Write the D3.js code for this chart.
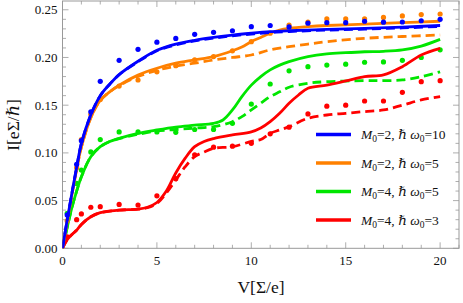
<!DOCTYPE html>
<html>
<head>
<meta charset="utf-8">
<script src="https://cdn.jsdelivr.net/npm/d3@7"></script>
<style>
  body { margin: 0; background: #fff; }
  text { font-family: "Liberation Serif", "DejaVu Serif", serif; }
</style>
</head>
<body>
<div id="chart"></div>
<script>
// curves: [V, I]
var blueSolid = [[0,0],[0.25,0.03],[0.5,0.058],[0.75,0.085],[1,0.110],[1.5,0.140],[2,0.160],[2.5,0.172],[3,0.182],[4,0.196],[5,0.2075],[6,0.214],[7,0.218],[8,0.221],[9,0.2235],[10,0.2254],[11,0.227],[12,0.228],[14,0.2295],[16,0.2305],[18,0.2318],[20,0.2335]];
var blueDash = [[0,0],[0.25,0.03],[0.5,0.058],[0.75,0.085],[1,0.110],[1.5,0.140],[2,0.160],[2.5,0.172],[3,0.182],[4,0.1955],[5,0.207],[6,0.2133],[7,0.2173],[8,0.2203],[9,0.2227],[10,0.2246],[11,0.2262],[12,0.2272],[14,0.2287],[16,0.2297],[18,0.231],[20,0.2325]];
var orangeSolid = [[0,0],[0.25,0.028],[0.5,0.056],[0.75,0.083],[1,0.106],[1.5,0.137],[2,0.155],[2.5,0.164],[3,0.171],[4,0.1815],[5,0.1887],[6,0.194],[7,0.1974],[8,0.2008],[9,0.207],[9.5,0.211],[10,0.2166],[10.5,0.221],[11,0.2254],[11.5,0.2288],[12,0.2305],[13,0.2323],[14,0.2335],[16,0.235],[18,0.2365],[20,0.238]];
var orangeDash = [[0,0],[0.25,0.028],[0.5,0.056],[0.75,0.083],[1,0.106],[1.5,0.137],[2,0.155],[2.5,0.164],[3,0.1705],[4,0.180],[5,0.1865],[6,0.191],[7,0.194],[8,0.1974],[9,0.2],[10,0.2026],[11,0.208],[12,0.2113],[13,0.214],[14,0.2166],[16,0.2201],[18,0.222],[20,0.2236]];
var greenSolid = [[0,0],[0.25,0.022],[0.5,0.043],[0.75,0.06],[1,0.075],[1.5,0.096],[2,0.1065],[2.5,0.112],[3,0.1153],[4,0.1205],[5,0.124],[6,0.127],[7,0.129],[8,0.131],[8.5,0.1345],[9,0.145],[9.5,0.159],[10,0.171],[10.5,0.180],[11,0.187],[11.5,0.192],[12,0.1956],[13,0.2008],[14,0.2037],[15,0.205],[16,0.206],[17,0.2065],[18,0.208],[19,0.212],[20,0.219]];
var greenDash = [[0,0],[0.25,0.022],[0.5,0.043],[0.75,0.06],[1,0.075],[1.5,0.096],[2,0.1065],[2.5,0.112],[3,0.115],[4,0.1195],[5,0.123],[6,0.1245],[7,0.126],[8,0.1275],[9,0.1327],[9.5,0.138],[10,0.145],[10.5,0.152],[11,0.159],[11.5,0.164],[12,0.1688],[13,0.173],[14,0.1746],[16,0.1757],[17,0.1757],[18,0.1765],[19,0.1799],[20,0.185]];
var redSolid = [[0,0],[0.25,0.009],[0.5,0.0145],[0.75,0.019],[1,0.025],[1.5,0.033],[2,0.0373],[3,0.040],[4,0.041],[4.5,0.043],[5,0.048],[5.5,0.060],[6,0.079],[6.5,0.0945],[7,0.1065],[7.5,0.112],[8,0.115],[9,0.1188],[10,0.122],[10.5,0.126],[11,0.1327],[11.5,0.1415],[12,0.152],[12.5,0.1607],[13,0.1677],[14,0.171],[15,0.1754],[16,0.180],[17,0.1817],[18,0.1904],[19,0.2026],[20,0.2096]];
var redDash = [[0,0],[0.25,0.009],[0.5,0.0145],[0.75,0.019],[1,0.025],[1.5,0.033],[2,0.0373],[3,0.040],[4,0.041],[4.5,0.0425],[5,0.047],[5.5,0.058],[6,0.0716],[6.5,0.0855],[7,0.096],[7.5,0.101],[8,0.1048],[9,0.1065],[10,0.112],[10.5,0.114],[11,0.1205],[11.5,0.124],[12,0.1275],[13,0.1363],[14,0.1397],[15,0.1415],[16,0.1433],[17,0.145],[18,0.150],[19,0.1555],[20,0.159]];

// dots
var dotV = [0.25,0.75,1,1.5,2,3,4,5,6,7,8,9,10,11,12,13,14,15,16,17,18,19,20];
var blueDots = [0.035,0.088,0.1128,0.143,0.175,0.197,0.2086,0.216,0.220,0.2243,0.2264,0.228,0.2323,0.2335,0.232,0.236,0.2365,0.2365,0.238,0.237,0.2372,0.2385,0.240];
var orangeDots = [0.029,0.0845,0.114,0.1405,0.156,0.170,0.1764,0.185,0.1914,0.1974,0.201,0.207,0.2166,0.2254,0.234,0.237,0.2404,0.2404,0.2406,0.242,0.2436,0.245,0.2456];
var greenDots = [0.0367,0.068,0.082,0.101,0.114,0.122,0.122,0.122,0.1216,0.1245,0.1245,0.131,0.1512,0.1722,0.186,0.1904,0.192,0.193,0.195,0.1953,0.197,0.200,0.208];
var redDots = [0.012,0.030,0.036,0.043,0.0436,0.046,0.0454,0.055,0.073,0.098,0.106,0.107,0.110,0.120,0.127,0.1408,0.149,0.150,0.1544,0.1544,0.1635,0.1746,0.1757];

var xTicks = [0,5,10,15,20];
var yTicks = [0,0.05,0.10,0.15,0.20,0.25];

var series = [
  {name: "g", color: "#00e600", solid: greenSolid, dash: greenDash, dots: greenDots, M: "4", w: "5"},
  {name: "r", color: "#ff0000", solid: redSolid, dash: redDash, dots: redDots, M: "4", w: "3"},
  {name: "o", color: "#ff8000", solid: orangeSolid, dash: orangeDash, dots: orangeDots, M: "2", w: "5"},
  {name: "b", color: "#0000ff", solid: blueSolid, dash: blueDash, dots: blueDots, M: "2", w: "10"}
];
var legendOrder = ["b", "o", "g", "r"];

var W = 463, H = 303;
var pL = 62.5, pR = 459, pT = 1, pB = 248.3;

var svg = d3.select("#chart").append("svg")
  .attr("width", W)
  .attr("height", H);

var x = d3.scaleLinear().domain([0, 21]).range([pL, pR]);
var y = d3.scaleLinear().domain([0, 0.2592]).range([pB, pT]);

svg.append("clipPath").attr("id", "clip")
  .append("rect").attr("x", pL).attr("y", pT).attr("width", pR - pL).attr("height", pB - pT);

// frame ticks (inward)
var frame = svg.append("g");
var minorX = d3.range(0, 21.01, 1);
var minorY = d3.range(0, 0.2591, 0.01);
minorX.forEach(function(v) {
  var major = Math.abs(v % 5) < 1e-9;
  var len = major ? 6 : 3.5;
  frame.append("line").attr("x1", x(v)).attr("x2", x(v)).attr("y1", pB).attr("y2", pB - len);
  frame.append("line").attr("x1", x(v)).attr("x2", x(v)).attr("y1", pT).attr("y2", pT + len);
});
minorY.forEach(function(v) {
  var major = Math.abs(Math.round(v * 100) % 5) === 0;
  var len = major ? 6 : 3.5;
  frame.append("line").attr("x1", pL).attr("x2", pL + len).attr("y1", y(v)).attr("y2", y(v));
  frame.append("line").attr("x1", pR).attr("x2", pR - len).attr("y1", y(v)).attr("y2", y(v));
});
frame.selectAll("line").attr("stroke", "#999").attr("stroke-width", 0.8);
frame.append("rect")
  .attr("x", pL).attr("y", pT).attr("width", pR - pL).attr("height", pB - pT)
  .attr("fill", "none").attr("stroke", "#999").attr("stroke-width", 1);

// tick labels
svg.selectAll(".xt").data(xTicks).join("text")
  .attr("x", d => x(d)).attr("y", pB + 17)
  .attr("text-anchor", "middle").attr("font-size", 13).attr("fill", "#111")
  .text(d => d);
svg.selectAll(".yt").data(yTicks).join("text")
  .attr("x", pL - 5).attr("y", d => y(d) + 4.5)
  .attr("text-anchor", "end").attr("font-size", 13).attr("fill", "#111")
  .text(d => d.toFixed(2));

// axis labels
svg.append("text")
  .attr("x", 261).attr("y", 293)
  .attr("text-anchor", "middle").attr("font-size", 17.5).attr("fill", "#111")
  .text("V[Σ/e]");
svg.append("text")
  .attr("transform", "translate(19,125) rotate(-90)")
  .attr("text-anchor", "middle").attr("font-size", 17.5).attr("fill", "#111")
  .text("I[eΣ/ℏ]");

// curves
var line = d3.line()
  .x(d => x(d[0]))
  .y(d => y(d[1]))
  .curve(d3.curveCatmullRom.alpha(0.5));

var plot = svg.append("g").attr("clip-path", "url(#clip)");

series.forEach(function(s) {
  plot.selectAll(".dot-" + s.name).data(dotV).join("circle")
    .attr("cx", d => x(d))
    .attr("cy", (d, i) => y(s.dots[i]))
    .attr("r", 2.6)
    .attr("fill", s.color);
  plot.append("path").datum(s.dash)
    .attr("d", line).attr("fill", "none")
    .attr("stroke", s.color).attr("stroke-width", 2.8)
    .attr("stroke-dasharray", "9,5");
  plot.append("path").datum(s.solid)
    .attr("d", line).attr("fill", "none")
    .attr("stroke", s.color).attr("stroke-width", 2.8);
});

// legend
var legend = svg.append("g");
legendOrder.forEach(function(key, i) {
  var s = series.find(d => d.name === key);
  var ly = 134.5 + i * 28.5;
  legend.append("line")
    .attr("x1", 316).attr("x2", 351).attr("y1", ly).attr("y2", ly)
    .attr("stroke", s.color).attr("stroke-width", 3.5);
  var t = legend.append("text")
    .attr("x", 361).attr("y", ly + 4.5)
    .attr("font-size", 13.5).attr("fill", "#111");
  t.append("tspan").attr("font-style", "italic").text("M");
  t.append("tspan").attr("font-size", 9.5).attr("dy", 3).text("0");
  t.append("tspan").attr("dy", -3).text("=" + s.M + ", ");
  t.append("tspan").attr("font-style", "italic").text("ℏ ω");
  t.append("tspan").attr("font-size", 9.5).attr("dy", 3).text("0");
  t.append("tspan").attr("dy", -3).text("=" + s.w);
});
</script>
</body>
</html>
